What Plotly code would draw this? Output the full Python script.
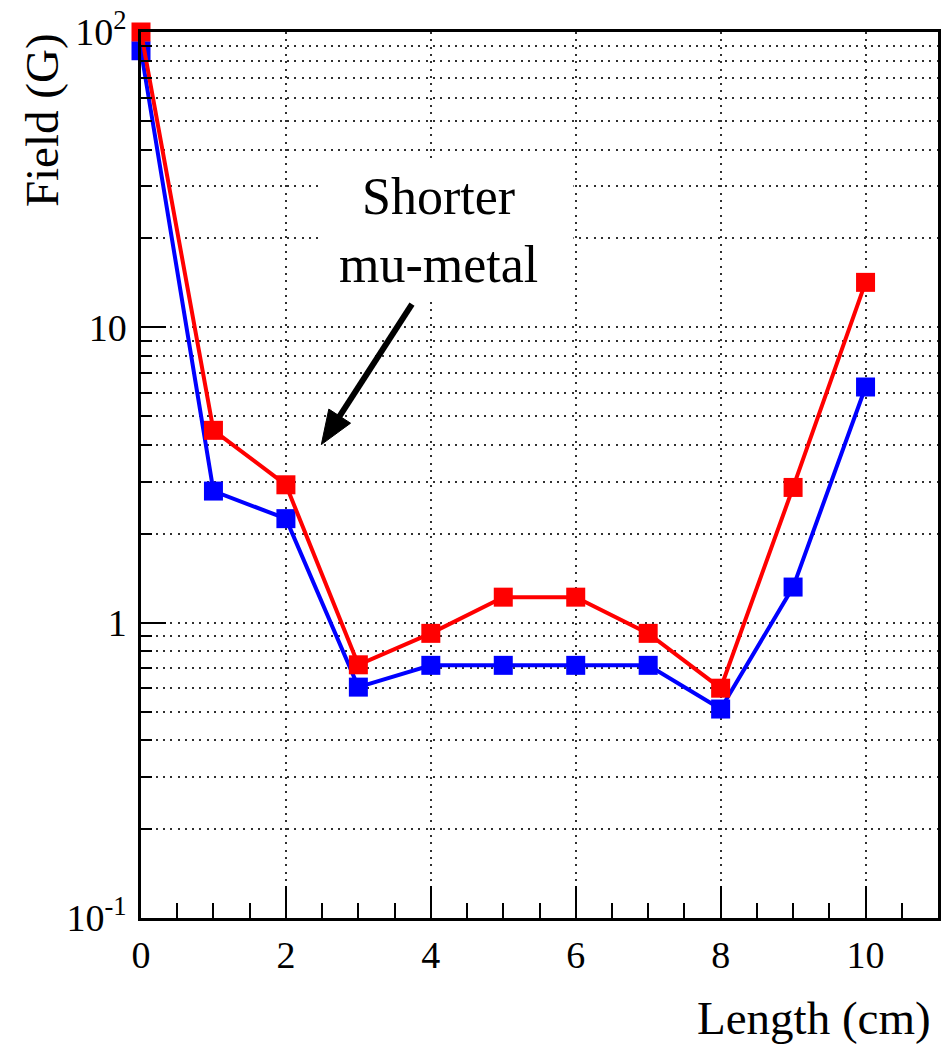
import math
import plotly.graph_objects as go

# Field along the shield, two configurations
length_cm = [0, 1, 2, 3, 4, 5, 6, 7, 8, 9, 10]
field_red = [100, 4.48, 2.93, 0.72, 0.92, 1.22, 1.22, 0.92, 0.60, 2.87, 14.2]
field_blue = [86.4, 2.79, 2.25, 0.605, 0.717, 0.717, 0.717, 0.717, 0.51, 1.32, 6.28]

x_tick_vals = [0, 2, 4, 6, 8, 10]
y_tick_vals = [0.1, 1, 10, 100]
y_tick_text = ["10<sup>-1</sup>", "1", "10", "10<sup>2</sup>"]
y_minor_vals = [m * d for d in (0.1, 1, 10) for m in range(2, 10)]

SERIF = "Liberation Serif"
W, H = 946, 1044
L, R, T, B = 141, 5, 29, 126
PW, PH = W - L - R, H - T - B


def px(xp):
    return (xp - L) / PW


def py(yp):
    return 1 - (yp - T) / PH


fig = go.Figure()
fig.add_trace(go.Scatter(
    x=length_cm, y=field_blue, mode="lines+markers",
    line=dict(color="#0000ff", width=4),
    marker=dict(symbol="square", size=19, color="#0000ff"),
    cliponaxis=False, showlegend=False,
))
fig.add_trace(go.Scatter(
    x=length_cm, y=field_red, mode="lines+markers",
    line=dict(color="#ff0000", width=4),
    marker=dict(symbol="square", size=19, color="#ff0000"),
    cliponaxis=False, showlegend=False,
))

grid = dict(gridcolor="#303030", gridwidth=2, griddash="2px,5.3px")

fig.update_xaxes(
    range=[0, 11], tickmode="array", tickvals=x_tick_vals,
    ticks="inside", ticklen=32, tickwidth=2, tickcolor="black",
    showline=True, linewidth=2.5, linecolor="black", mirror=True,
    showgrid=True, **grid, zeroline=False,
    tickfont=dict(family=SERIF, size=38, color="black"),
    ticklabelstandoff=2,
    minor=dict(dtick=0.5, ticks="inside", ticklen=15, tickwidth=2,
               tickcolor="black", showgrid=False),
)
fig.update_yaxes(
    type="log", range=[-1, 2], tickmode="array",
    tickvals=y_tick_vals, ticktext=y_tick_text,
    ticks="inside", ticklen=25, tickwidth=2, tickcolor="black",
    showline=True, linewidth=2.5, linecolor="black", mirror=True,
    showgrid=True, **grid, zeroline=False,
    tickfont=dict(family=SERIF, size=38, color="black"),
    ticklabelstandoff=4,
    minor=dict(tickmode="array", tickvals=y_minor_vals, ticks="inside",
               ticklen=11, tickwidth=2, tickcolor="black",
               showgrid=True, **grid),
)

# white pad behind the label
fig.add_shape(type="rect", xref="paper", yref="paper",
              x0=px(323), x1=px(575), y0=py(300), y1=py(160),
              fillcolor="white", line=dict(width=0), layer="above")

fig.add_annotation(
    text="Shorter<br>mu-metal", xref="paper", yref="paper",
    x=px(440), y=py(228), xanchor="center", yanchor="middle",
    showarrow=False, align="center",
    font=dict(family=SERIF, size=52, color="black"),
)

# arrow from the label down towards the curves (pixel geometry)
tail = (413, 302)
tip = (322, 443)
dx, dy = tip[0] - tail[0], tip[1] - tail[1]
n = math.hypot(dx, dy)
ux, uy = dx / n, dy / n
head_len, head_half = 34, 13
bx, by = tip[0] - head_len * ux, tip[1] - head_len * uy
c1 = (bx + head_half * -uy, by + head_half * ux)
c2 = (bx - head_half * -uy, by - head_half * ux)
fig.add_shape(type="line", xref="paper", yref="paper",
              x0=px(tail[0]), y0=py(tail[1]),
              x1=px(bx + 4 * ux), y1=py(by + 4 * uy),
              line=dict(color="black", width=6), layer="above")
fig.add_shape(type="path", xref="paper", yref="paper",
              path="M {:.5f} {:.5f} L {:.5f} {:.5f} L {:.5f} {:.5f} Z".format(
                  px(tip[0]), py(tip[1]), px(c1[0]), py(c1[1]),
                  px(c2[0]), py(c2[1])),
              fillcolor="black", line=dict(color="black", width=1),
              layer="above")

# axis titles
fig.add_annotation(
    text="Field (G)", xref="paper", yref="paper",
    x=px(41), y=py(117), xanchor="center", yanchor="middle",
    textangle=-90, showarrow=False,
    font=dict(family=SERIF, size=47, color="black"),
)
fig.add_annotation(
    text="Length (cm)", xref="paper", yref="paper",
    x=px(936), y=py(1018), xanchor="right", yanchor="middle",
    showarrow=False,
    font=dict(family=SERIF, size=47, color="black"),
)

fig.update_layout(
    width=W, height=H, margin=dict(l=L, r=R, t=T, b=B),
    paper_bgcolor="white", plot_bgcolor="white",
)

fig.write_html("out.html")
